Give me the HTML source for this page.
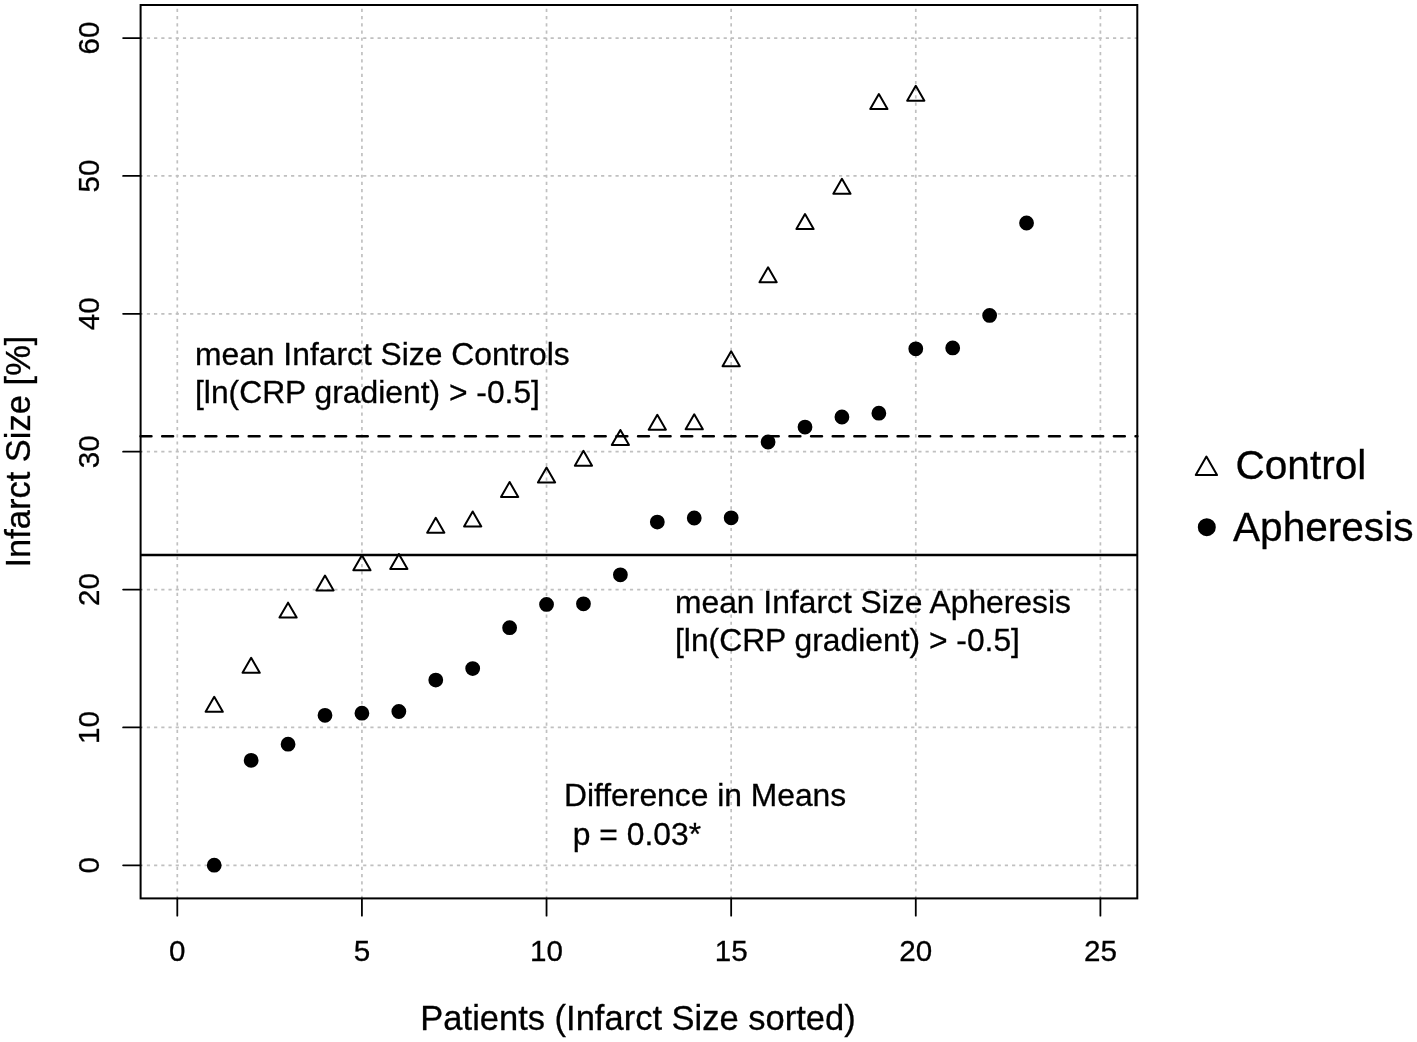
<!DOCTYPE html>
<html><head><meta charset="utf-8"><style>
html,body{margin:0;padding:0;background:#fff;}
body{width:1417px;height:1042px;overflow:hidden;}
svg{display:block;font-family:"Liberation Sans",sans-serif;}
svg text{stroke:#000;stroke-width:0.3px;stroke-dasharray:none;}
</style></head><body>
<svg style="will-change:transform" width="1417" height="1042" viewBox="0 0 1417 1042">
<rect width="1417" height="1042" fill="#fff"/>
<g class="t">
<g stroke="#c0c0c0" stroke-width="1.7" stroke-dasharray="3.2 4.01" fill="none"><g stroke-dashoffset="3.41"><line x1="177.30" y1="5.00" x2="177.30" y2="898.40"/><line x1="361.92" y1="5.00" x2="361.92" y2="898.40"/><line x1="546.54" y1="5.00" x2="546.54" y2="898.40"/><line x1="731.16" y1="5.00" x2="731.16" y2="898.40"/><line x1="915.78" y1="5.00" x2="915.78" y2="898.40"/><line x1="1100.40" y1="5.00" x2="1100.40" y2="898.40"/></g><g stroke-dashoffset="0.96"><line x1="140.60" y1="865.30" x2="1137.30" y2="865.30"/><line x1="140.60" y1="727.43" x2="1137.30" y2="727.43"/><line x1="140.60" y1="589.56" x2="1137.30" y2="589.56"/><line x1="140.60" y1="451.69" x2="1137.30" y2="451.69"/><line x1="140.60" y1="313.82" x2="1137.30" y2="313.82"/><line x1="140.60" y1="175.95" x2="1137.30" y2="175.95"/><line x1="140.60" y1="38.08" x2="1137.30" y2="38.08"/></g></g>
<line x1="140.6" y1="436.3" x2="1137.3" y2="436.3" stroke="#000" stroke-width="2.6" stroke-dasharray="10.815 10.815" stroke-linecap="round"/>
<line x1="140.6" y1="555.0" x2="1137.3" y2="555.0" stroke="#000" stroke-width="2.6"/>
<g fill="none" stroke="#000" stroke-width="2" stroke-linejoin="round"><polygon points="214.22,696.85 222.84,711.78 205.60,711.78"/><polygon points="251.15,657.85 259.77,672.78 242.53,672.78"/><polygon points="288.07,602.65 296.69,617.58 279.45,617.58"/><polygon points="325.00,575.55 333.62,590.48 316.38,590.48"/><polygon points="361.92,555.35 370.54,570.28 353.30,570.28"/><polygon points="398.84,553.95 407.46,568.88 390.22,568.88"/><polygon points="435.77,517.80 444.39,532.73 427.15,532.73"/><polygon points="472.69,511.45 481.31,526.38 464.07,526.38"/><polygon points="509.62,481.95 518.24,496.88 501.00,496.88"/><polygon points="546.54,467.55 555.16,482.48 537.92,482.48"/><polygon points="583.46,450.75 592.08,465.68 574.84,465.68"/><polygon points="620.39,429.95 629.01,444.88 611.77,444.88"/><polygon points="657.31,414.75 665.93,429.68 648.69,429.68"/><polygon points="694.24,414.35 702.86,429.28 685.62,429.28"/><polygon points="731.16,351.35 739.78,366.28 722.54,366.28"/><polygon points="768.08,267.25 776.70,282.18 759.46,282.18"/><polygon points="805.01,214.10 813.63,229.03 796.39,229.03"/><polygon points="841.93,178.85 850.55,193.78 833.31,193.78"/><polygon points="878.86,94.10 887.48,109.03 870.24,109.03"/><polygon points="915.78,85.75 924.40,100.68 907.16,100.68"/></g>
<g fill="#000" stroke="#000" stroke-width="2"><circle cx="214.22" cy="865.20" r="6.4"/><circle cx="251.15" cy="760.30" r="6.4"/><circle cx="288.07" cy="744.20" r="6.4"/><circle cx="325.00" cy="715.30" r="6.4"/><circle cx="361.92" cy="713.20" r="6.4"/><circle cx="398.84" cy="711.50" r="6.4"/><circle cx="435.77" cy="680.10" r="6.4"/><circle cx="472.69" cy="668.60" r="6.4"/><circle cx="509.62" cy="627.70" r="6.4"/><circle cx="546.54" cy="604.40" r="6.4"/><circle cx="583.46" cy="603.80" r="6.4"/><circle cx="620.39" cy="574.80" r="6.4"/><circle cx="657.31" cy="522.10" r="6.4"/><circle cx="694.24" cy="518.00" r="6.4"/><circle cx="731.16" cy="517.80" r="6.4"/><circle cx="768.08" cy="442.00" r="6.4"/><circle cx="805.01" cy="427.10" r="6.4"/><circle cx="841.93" cy="417.00" r="6.4"/><circle cx="878.86" cy="413.20" r="6.4"/><circle cx="915.78" cy="348.80" r="6.4"/><circle cx="952.70" cy="347.90" r="6.4"/><circle cx="989.63" cy="315.40" r="6.4"/><circle cx="1026.55" cy="223.00" r="6.4"/></g>
<rect x="140.6" y="5.0" width="996.70" height="893.40" fill="none" stroke="#000" stroke-width="2.0"/>
<g stroke="#000" stroke-width="1.8" stroke-linecap="round"><line x1="177.30" y1="898.40" x2="177.30" y2="915.7"/><line x1="361.92" y1="898.40" x2="361.92" y2="915.7"/><line x1="546.54" y1="898.40" x2="546.54" y2="915.7"/><line x1="731.16" y1="898.40" x2="731.16" y2="915.7"/><line x1="915.78" y1="898.40" x2="915.78" y2="915.7"/><line x1="1100.40" y1="898.40" x2="1100.40" y2="915.7"/><line x1="123.1" y1="865.30" x2="140.60" y2="865.30"/><line x1="123.1" y1="727.43" x2="140.60" y2="727.43"/><line x1="123.1" y1="589.56" x2="140.60" y2="589.56"/><line x1="123.1" y1="451.69" x2="140.60" y2="451.69"/><line x1="123.1" y1="313.82" x2="140.60" y2="313.82"/><line x1="123.1" y1="175.95" x2="140.60" y2="175.95"/><line x1="123.1" y1="38.08" x2="140.60" y2="38.08"/></g>
<g font-size="29.6"><text x="177.30" y="960.8" text-anchor="middle">0</text><text x="361.92" y="960.8" text-anchor="middle">5</text><text x="546.54" y="960.8" text-anchor="middle">10</text><text x="731.16" y="960.8" text-anchor="middle">15</text><text x="915.78" y="960.8" text-anchor="middle">20</text><text x="1100.40" y="960.8" text-anchor="middle">25</text><text transform="translate(98.9,865.30) rotate(-90)" text-anchor="middle">0</text><text transform="translate(98.9,727.43) rotate(-90)" text-anchor="middle">10</text><text transform="translate(98.9,589.56) rotate(-90)" text-anchor="middle">20</text><text transform="translate(98.9,451.69) rotate(-90)" text-anchor="middle">30</text><text transform="translate(98.9,313.82) rotate(-90)" text-anchor="middle">40</text><text transform="translate(98.9,175.95) rotate(-90)" text-anchor="middle">50</text><text transform="translate(98.9,38.08) rotate(-90)" text-anchor="middle">60</text></g>
<text x="638" y="1029.8" font-size="34.5" text-anchor="middle">Patients (Infarct Size sorted)</text>
<text transform="translate(30,451.6) rotate(-90)" font-size="34.5" text-anchor="middle">Infarct Size [%]</text>
<g font-size="31.8"><text x="195" y="364.6">mean Infarct Size Controls</text><text x="195" y="403">[ln(CRP gradient) &gt; -0.5]</text><text x="675" y="612.6">mean Infarct Size Apheresis</text><text x="675" y="651.1">[ln(CRP gradient) &gt; -0.5]</text><text x="564" y="806.1">Difference in Means</text><text x="564" y="844.6" xml:space="preserve"> p = 0.03*</text></g>
<polygon fill="none" stroke="#000" stroke-width="2" stroke-linejoin="round" points="1206.40,456.61 1217.04,475.04 1195.76,475.04"/>
<circle cx="1206.8" cy="527.2" r="8" fill="#000" stroke="#000" stroke-width="2"/>
<g font-size="40.6"><text x="1235.5" y="478.6">Control</text><text x="1233" y="540.7">Apheresis</text></g>
</g>
</svg>
</body></html>
